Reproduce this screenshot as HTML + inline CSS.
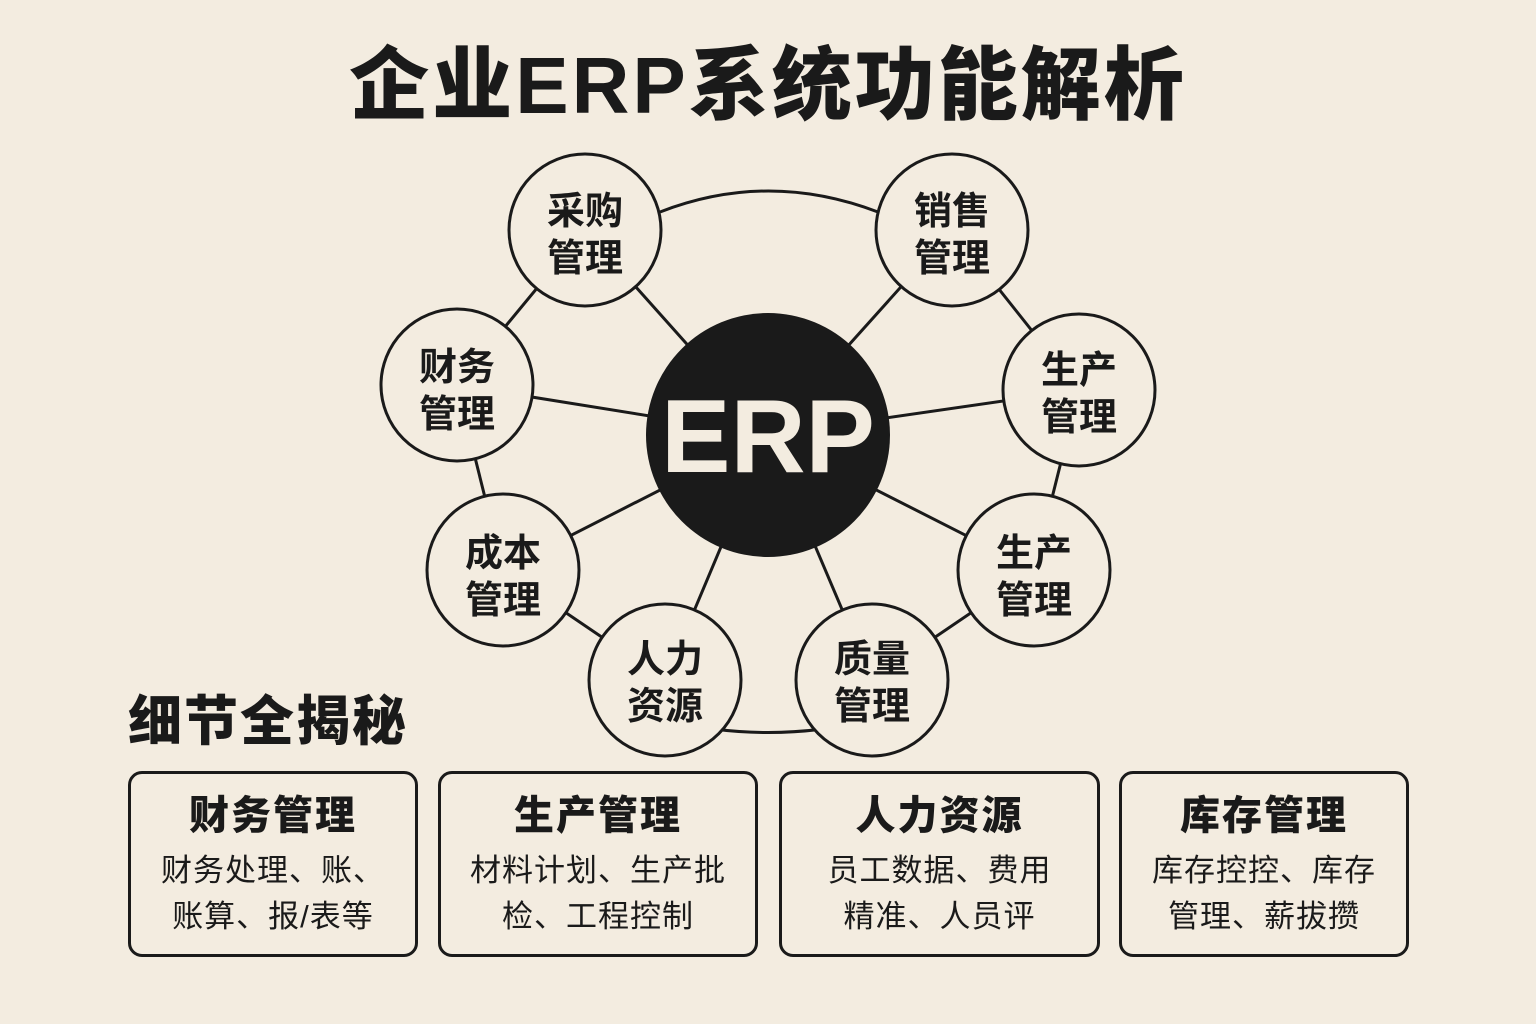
<!DOCTYPE html>
<html><head><meta charset="utf-8"><style>
body{margin:0;width:1536px;height:1024px;background:#f3ece0;font-family:"Liberation Sans","Noto Sans CJK SC",sans-serif;color:#1a1a1a;position:relative;overflow:hidden}
.t{position:absolute;left:0;width:1536px;top:38px;text-align:center;font-size:80px;font-weight:900;line-height:96px;letter-spacing:3px}
.s{position:absolute;left:128px;top:688px;font-size:54px;font-weight:900;line-height:68px;letter-spacing:2px}
.b{position:absolute;top:771px;height:186px;border:3px solid #1a1a1a;border-radius:14px;box-sizing:border-box;text-align:center}
.b h{display:block;font-size:40px;font-weight:900;margin-top:18px;line-height:48px;letter-spacing:2px}
.b p{margin:8px 0 0;font-size:31px;line-height:46px;letter-spacing:1px}
</style></head><body>
<div class="t">企业ERP系统功能解析</div>
<svg width="1536" height="1024" style="position:absolute;left:0;top:0">
<g stroke="#1a1a1a" stroke-width="3" fill="none">
<path d="M660 212 Q768 170 878 212"/>
<path d="M665 720 Q768 745 872 720"/>
<line x1="585" y1="230" x2="457" y2="385"/>
<line x1="457" y1="385" x2="503" y2="570"/>
<line x1="503" y1="570" x2="665" y2="680"/>
<line x1="872" y1="680" x2="1034" y2="570"/>
<line x1="1034" y1="570" x2="1079" y2="390"/>
<line x1="1079" y1="390" x2="952" y2="230"/>
<line x1="768" y1="435" x2="585" y2="230"/>
<line x1="768" y1="435" x2="952" y2="230"/>
<line x1="768" y1="435" x2="457" y2="385"/>
<line x1="768" y1="435" x2="1079" y2="390"/>
<line x1="768" y1="435" x2="503" y2="570"/>
<line x1="768" y1="435" x2="1034" y2="570"/>
<line x1="768" y1="435" x2="665" y2="680"/>
<line x1="768" y1="435" x2="872" y2="680"/>
</g>
<g stroke="#1a1a1a" stroke-width="3" fill="#f3ece0">
<circle cx="585" cy="230" r="76"/><circle cx="952" cy="230" r="76"/>
<circle cx="457" cy="385" r="76"/><circle cx="1079" cy="390" r="76"/>
<circle cx="503" cy="570" r="76"/><circle cx="1034" cy="570" r="76"/>
<circle cx="665" cy="680" r="76"/><circle cx="872" cy="680" r="76"/>
</g>
<circle cx="768" cy="435" r="122" fill="#1a1a1a"/>
<text x="768" y="472" text-anchor="middle" font-size="104" font-weight="bold" fill="#f3ece0" font-family="Liberation Sans,sans-serif">ERP</text>
<g font-size="38" font-weight="bold" text-anchor="middle" fill="#1a1a1a" font-family="Liberation Sans,Noto Sans CJK SC,sans-serif">
<text x="585" y="224">采购</text><text x="585" y="271">管理</text>
<text x="952" y="224">销售</text><text x="952" y="271">管理</text>
<text x="457" y="380">财务</text><text x="457" y="427">管理</text>
<text x="1079" y="383">生产</text><text x="1079" y="430">管理</text>
<text x="503" y="566">成本</text><text x="503" y="613">管理</text>
<text x="1034" y="566">生产</text><text x="1034" y="613">管理</text>
<text x="665" y="672">人力</text><text x="665" y="719">资源</text>
<text x="872" y="672">质量</text><text x="872" y="719">管理</text>
</g>
</svg>
<div class="s">细节全揭秘</div>
<div class="b" style="left:128px;width:290px"><h>财务管理</h><p>财务处理、账、<br>账算、报/表等</p></div>
<div class="b" style="left:438px;width:320px"><h>生产管理</h><p>材料计划、生产批<br>检、工程控制</p></div>
<div class="b" style="left:779px;width:321px"><h>人力资源</h><p>员工数据、费用<br>精准、人员评</p></div>
<div class="b" style="left:1119px;width:290px"><h>库存管理</h><p>库存控控、库存<br>管理、薪拔攒</p></div>
</body></html>
